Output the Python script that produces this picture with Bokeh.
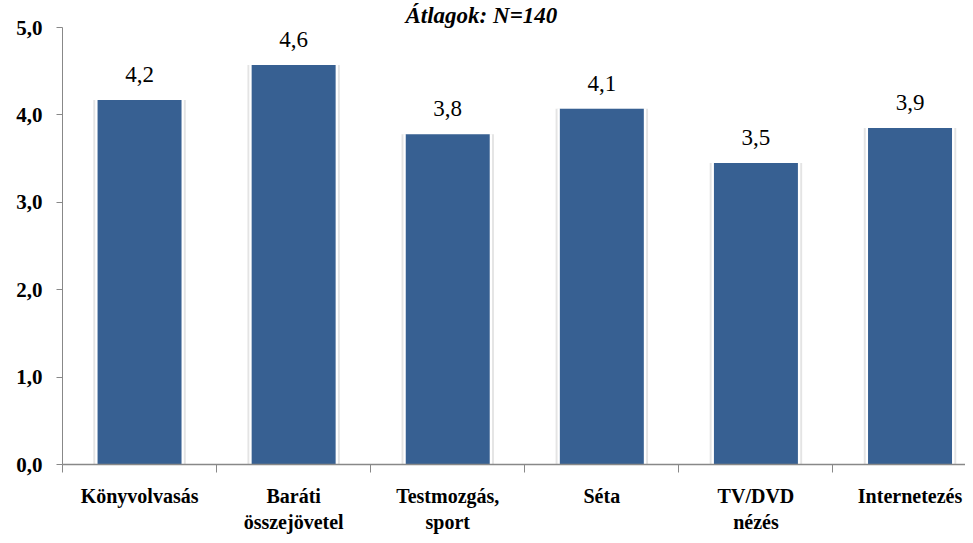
from bokeh.plotting import figure
from bokeh.models import Range1d, FixedTicker, ColumnDataSource, LabelSet
from bokeh.embed import file_html
from bokeh.resources import INLINE

categories = ["Könyvolvasás", "Baráti\nösszejövetel", "Testmozgás,\nsport", "Séta", "TV/DVD\nnézés", "Internetezés"]
values = [4.17, 4.57, 3.78, 4.07, 3.45, 3.85]
value_labels = ["4,2", "4,6", "3,8", "4,1", "3,5", "3,9"]
y_ticks = [0, 1, 2, 3, 4, 5]
y_tick_labels = ["0,0", "1,0", "2,0", "3,0", "4,0", "5,0"]
title_text = "Átlagok: N=140"

xs = [i + 0.5 for i in range(len(categories))]
src = ColumnDataSource(dict(x=xs, top=values, lab=value_labels))

p = figure(width=965, height=535, output_backend="svg", toolbar_location=None,
           x_range=Range1d(0, 5.86), y_range=Range1d(0, 5.0),
           min_border_left=62, min_border_right=0, min_border_top=23, min_border_bottom=60)
p.outline_line_color = None
p.xgrid.grid_line_color = None
p.ygrid.grid_line_color = None

p.title.text = title_text
p.title.align = "left"
p.title.offset = 343
p.title.standoff = 0
p.title.text_font = "Liberation Serif"
p.title.text_font_style = "bold italic"
p.title.text_font_size = "23px"
p.title.text_color = "black"

p.vbar(x="x", top="top", width=0.60, bottom=0, source=src, fill_color="#d9d9d9", line_color=None, fill_alpha=0.7)
p.vbar(x="x", top="top", width=0.575, bottom=0, source=src, fill_color="white", line_color=None)
p.vbar(x="x", top="top", width=0.545, bottom=0, source=src, fill_color="#376092", line_color=None)

labels = LabelSet(x="x", y="top", text="lab", source=src, text_align="center", text_baseline="bottom",
                  y_offset=18, text_font="Liberation Serif", text_font_size="23px", text_color="black")
p.add_layout(labels)

xa = p.xaxis[0]
xa.ticker = FixedTicker(ticks=xs, minor_ticks=list(range(len(categories) + 1)))
xa.major_label_overrides = {x: c for x, c in zip(xs, categories)}
xa.major_tick_out = 0
xa.major_tick_in = 0
xa.minor_tick_out = 8
xa.minor_tick_in = 0
xa.minor_tick_line_color = "#888888"
xa.axis_line_color = "#888888"
xa.axis_line_width = 1.5
xa.major_label_standoff = 12
xa.major_label_text_font = "Liberation Serif"
xa.major_label_text_font_style = "bold"
xa.major_label_text_font_size = "20px"
xa.major_label_text_color = "black"

ya = p.yaxis[0]
ya.ticker = FixedTicker(ticks=y_ticks)
ya.major_label_overrides = {t: l for t, l in zip(y_ticks, y_tick_labels)}
ya.minor_tick_line_color = None
ya.major_tick_out = 6
ya.major_tick_in = 0
ya.major_tick_line_color = "#888888"
ya.axis_line_color = "#888888"
ya.major_label_standoff = 14
ya.major_label_text_font = "Liberation Serif"
ya.major_label_text_font_style = "bold"
ya.major_label_text_font_size = "21px"
ya.major_label_text_color = "black"

open("out.html", "w").write(file_html(p, INLINE))
